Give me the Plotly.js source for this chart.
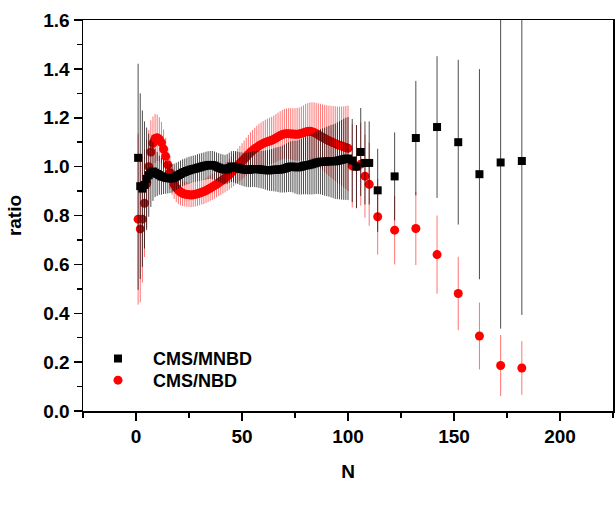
<!DOCTYPE html>
<html>
<head>
<meta charset="utf-8">
<script src="https://cdn.plot.ly/plotly-3.0.1.min.js"></script>
<style>
  html, body { margin: 0; padding: 0; background: #fff; }
  #chart { width: 616px; height: 522px; }
</style>
</head>
<body>
<div id="chart"></div>
<script>
// ratio of CMS data to MNBD / NBD fits

// dense part, N = 1 .. 100
var black_dense = [
  1.036, 0.92, 0.91, 0.925, 0.95, 0.965, 0.975, 0.98, 0.975, 0.97,
  0.965, 0.96, 0.958, 0.955, 0.953, 0.952, 0.952, 0.955, 0.96, 0.965,
  0.97, 0.975, 0.978, 0.982, 0.985, 0.988, 0.99, 0.992, 0.995, 0.997,
  1.0, 1.002, 1.004, 1.006, 1.007, 1.006, 1.004, 1.0, 0.996, 0.993,
  0.99, 0.988, 0.99, 0.995, 1.0, 1.0, 0.998, 0.995, 0.992, 0.99,
  0.988, 0.987, 0.987, 0.988, 0.99, 0.99, 0.99, 0.989, 0.988, 0.987,
  0.986, 0.985, 0.985, 0.986, 0.987, 0.988, 0.988, 0.988, 0.99, 0.992,
  0.995, 0.998, 1.0, 1.0, 0.998, 0.997, 0.998, 1.0, 1.003, 1.005,
  1.006, 1.008, 1.01, 1.013, 1.016, 1.018, 1.02, 1.02, 1.02, 1.021,
  1.022, 1.022, 1.022, 1.022, 1.024, 1.026, 1.028, 1.03, 1.032, 1.033
];
var black_dense_err = [
  0.46, 0.38, 0.32, 0.26, 0.21, 0.17, 0.14, 0.12, 0.10, 0.09,
  0.08, 0.075, 0.07, 0.066, 0.063, 0.06, 0.058, 0.057, 0.056, 0.055,
  0.055, 0.055, 0.055, 0.055, 0.055, 0.055, 0.055, 0.055, 0.056, 0.056,
  0.056, 0.056, 0.057, 0.057, 0.057, 0.058, 0.058, 0.058, 0.059, 0.059,
  0.06, 0.06, 0.061, 0.062, 0.063, 0.064, 0.065, 0.066, 0.067, 0.068,
  0.069, 0.07, 0.071, 0.072, 0.073, 0.074, 0.075, 0.076, 0.077, 0.078,
  0.08, 0.082, 0.084, 0.086, 0.088, 0.09, 0.092, 0.094, 0.096, 0.098,
  0.1, 0.102, 0.104, 0.106, 0.108, 0.11, 0.112, 0.114, 0.116, 0.118,
  0.12, 0.122, 0.124, 0.126, 0.128, 0.13, 0.133, 0.136, 0.139, 0.142,
  0.145, 0.148, 0.151, 0.154, 0.157, 0.16, 0.163, 0.166, 0.168, 0.17
];
// the N = 1 black bar is lopsided: [up, down]
var black_first_err = [0.385, 0.54];

var red_dense = [
  0.785, 0.745, 0.785, 0.85, 0.93, 1.0, 1.06, 1.095, 1.115, 1.118,
  1.112, 1.098, 1.072, 1.042, 1.008, 0.975, 0.948, 0.928, 0.913, 0.903,
  0.896, 0.891, 0.888, 0.886, 0.885, 0.884, 0.885, 0.887, 0.889, 0.892,
  0.895, 0.898, 0.902, 0.907, 0.912, 0.917, 0.922, 0.928, 0.934, 0.94,
  0.946, 0.952, 0.96, 0.968, 0.977, 0.986, 0.995, 1.004, 1.013, 1.022,
  1.031, 1.04, 1.05, 1.059, 1.066, 1.073, 1.079, 1.085, 1.09, 1.095,
  1.099, 1.102, 1.105, 1.108, 1.112, 1.117, 1.122, 1.127, 1.131, 1.134,
  1.135, 1.135, 1.134, 1.133, 1.132, 1.132, 1.133, 1.136, 1.139, 1.142,
  1.144, 1.145, 1.143, 1.14, 1.135, 1.13, 1.125, 1.12, 1.115, 1.11,
  1.106, 1.102, 1.098, 1.094, 1.09, 1.087, 1.084, 1.081, 1.078, 1.075
];
var red_dense_err = [
  0.35, 0.3, 0.26, 0.22, 0.18, 0.15, 0.13, 0.11, 0.1, 0.095,
  0.09, 0.085, 0.08, 0.075, 0.07, 0.066, 0.063, 0.06, 0.058, 0.056,
  0.054, 0.052, 0.051, 0.05, 0.05, 0.05, 0.05, 0.05, 0.05, 0.05,
  0.05, 0.051, 0.051, 0.052, 0.052, 0.053, 0.053, 0.054, 0.055, 0.056,
  0.057, 0.058, 0.06, 0.062, 0.064, 0.066, 0.068, 0.07, 0.072, 0.074,
  0.076, 0.078, 0.08, 0.082, 0.084, 0.086, 0.088, 0.09, 0.091, 0.092,
  0.093, 0.094, 0.095, 0.096, 0.097, 0.098, 0.099, 0.1, 0.101, 0.102,
  0.103, 0.104, 0.105, 0.106, 0.107, 0.108, 0.109, 0.11, 0.112, 0.114,
  0.116, 0.118, 0.12, 0.123, 0.126, 0.129, 0.132, 0.135, 0.138, 0.141,
  0.144, 0.147, 0.15, 0.153, 0.156, 0.159, 0.162, 0.166, 0.17, 0.175
];

// sparse tail
var n_tail         = [102, 104, 106, 108, 110, 114, 122, 132, 142, 152, 162, 172, 182];
var black_tail     = [1.025, 1.0, 1.06, 1.015, 1.015, 0.903, 0.96, 1.117, 1.162, 1.10, 0.969, 1.017, 1.023];
var black_tail_err = [0.17, 0.17, 0.18, 0.17, 0.17, 0.17, 0.18, 0.234, 0.29, 0.337, 0.43, 0.68, 0.63];
var red_tail       = [1.003, 1.0, 1.01, 0.961, 0.928, 0.795, 0.74, 0.747, 0.64, 0.481, 0.307, 0.186, 0.176];
var red_tail_err   = [0.17, 0.17, 0.17, 0.17, 0.17, 0.155, 0.14, 0.15, 0.16, 0.15, 0.137, 0.125, 0.11];

var n_dense = [];
for (var i = 1; i <= black_dense.length; i++) n_dense.push(i);

var N = n_dense.concat(n_tail);

var black_up = black_dense_err.concat(black_tail_err);
var black_dn = black_up.slice();
black_up[0] = black_first_err[0];
black_dn[0] = black_first_err[1];

var fnt = { family: "'Liberation Sans', Arial, sans-serif", size: 19, color: '#000', weight: 'bold' };
var legfnt = { family: fnt.family, size: 18, color: '#000', weight: 'bold' };

var red_trace = {
  x: N,
  y: red_dense.concat(red_tail),
  error_y: { type: 'data', array: red_dense_err.concat(red_tail_err), visible: true,
             color: 'rgba(255,0,0,0.55)', thickness: 1, width: 0 },
  mode: 'markers',
  type: 'scatter',
  name: 'CMS/NBD',
  legend: 'legend2',
  marker: { symbol: 'circle', size: 9, color: '#ff0000' }
};

var black_trace = {
  x: N,
  y: black_dense.concat(black_tail),
  error_y: { type: 'data', symmetric: false, array: black_up, arrayminus: black_dn, visible: true,
             color: 'rgba(0,0,0,0.7)', thickness: 1, width: 0 },
  mode: 'markers',
  type: 'scatter',
  name: 'CMS/MNBD',
  legend: 'legend',
  marker: { symbol: 'square', size: 8, color: '#000' }
};

var layout = {
  width: 616,
  height: 522,
  margin: { l: 83, r: 3, t: 20, b: 111 },
  paper_bgcolor: '#fff',
  plot_bgcolor: '#fff',
  showlegend: true,
  legend: {
    x: 0, y: 0.181, xanchor: 'left', yanchor: 'top',
    bgcolor: 'rgba(0,0,0,0)', font: legfnt, itemwidth: 60
  },
  legend2: {
    x: 0, y: 0.1254, xanchor: 'left', yanchor: 'top',
    bgcolor: 'rgba(0,0,0,0)', font: legfnt, itemwidth: 60
  },
  xaxis: {
    range: [-25, 225],
    dtick: 50, tick0: 0,
    ticks: 'outside', ticklen: 8, tickwidth: 1.5, tickcolor: '#000',
    minor: { dtick: 25, ticks: 'outside', ticklen: 5, tickwidth: 1.5, tickcolor: '#000' },
    showline: true, linewidth: 1.5, linecolor: '#000', mirror: true,
    showgrid: false, zeroline: false,
    tickfont: fnt,
    title: { text: 'N', font: fnt, standoff: 18 }
  },
  yaxis: {
    range: [0, 1.6],
    dtick: 0.2, tick0: 0, tickformat: '.1f',
    ticks: 'outside', ticklen: 8, tickwidth: 1.5, tickcolor: '#000',
    minor: { dtick: 0.1, ticks: 'outside', ticklen: 5, tickwidth: 1.5, tickcolor: '#000' },
    showline: true, linewidth: 1.5, linecolor: '#000', mirror: true,
    showgrid: false, zeroline: false,
    tickfont: fnt,
    title: { text: 'ratio', font: fnt, standoff: 16 }
  }
};

Plotly.newPlot('chart', [red_trace, black_trace], layout, { displayModeBar: false, staticPlot: true });
</script>
</body>
</html>
